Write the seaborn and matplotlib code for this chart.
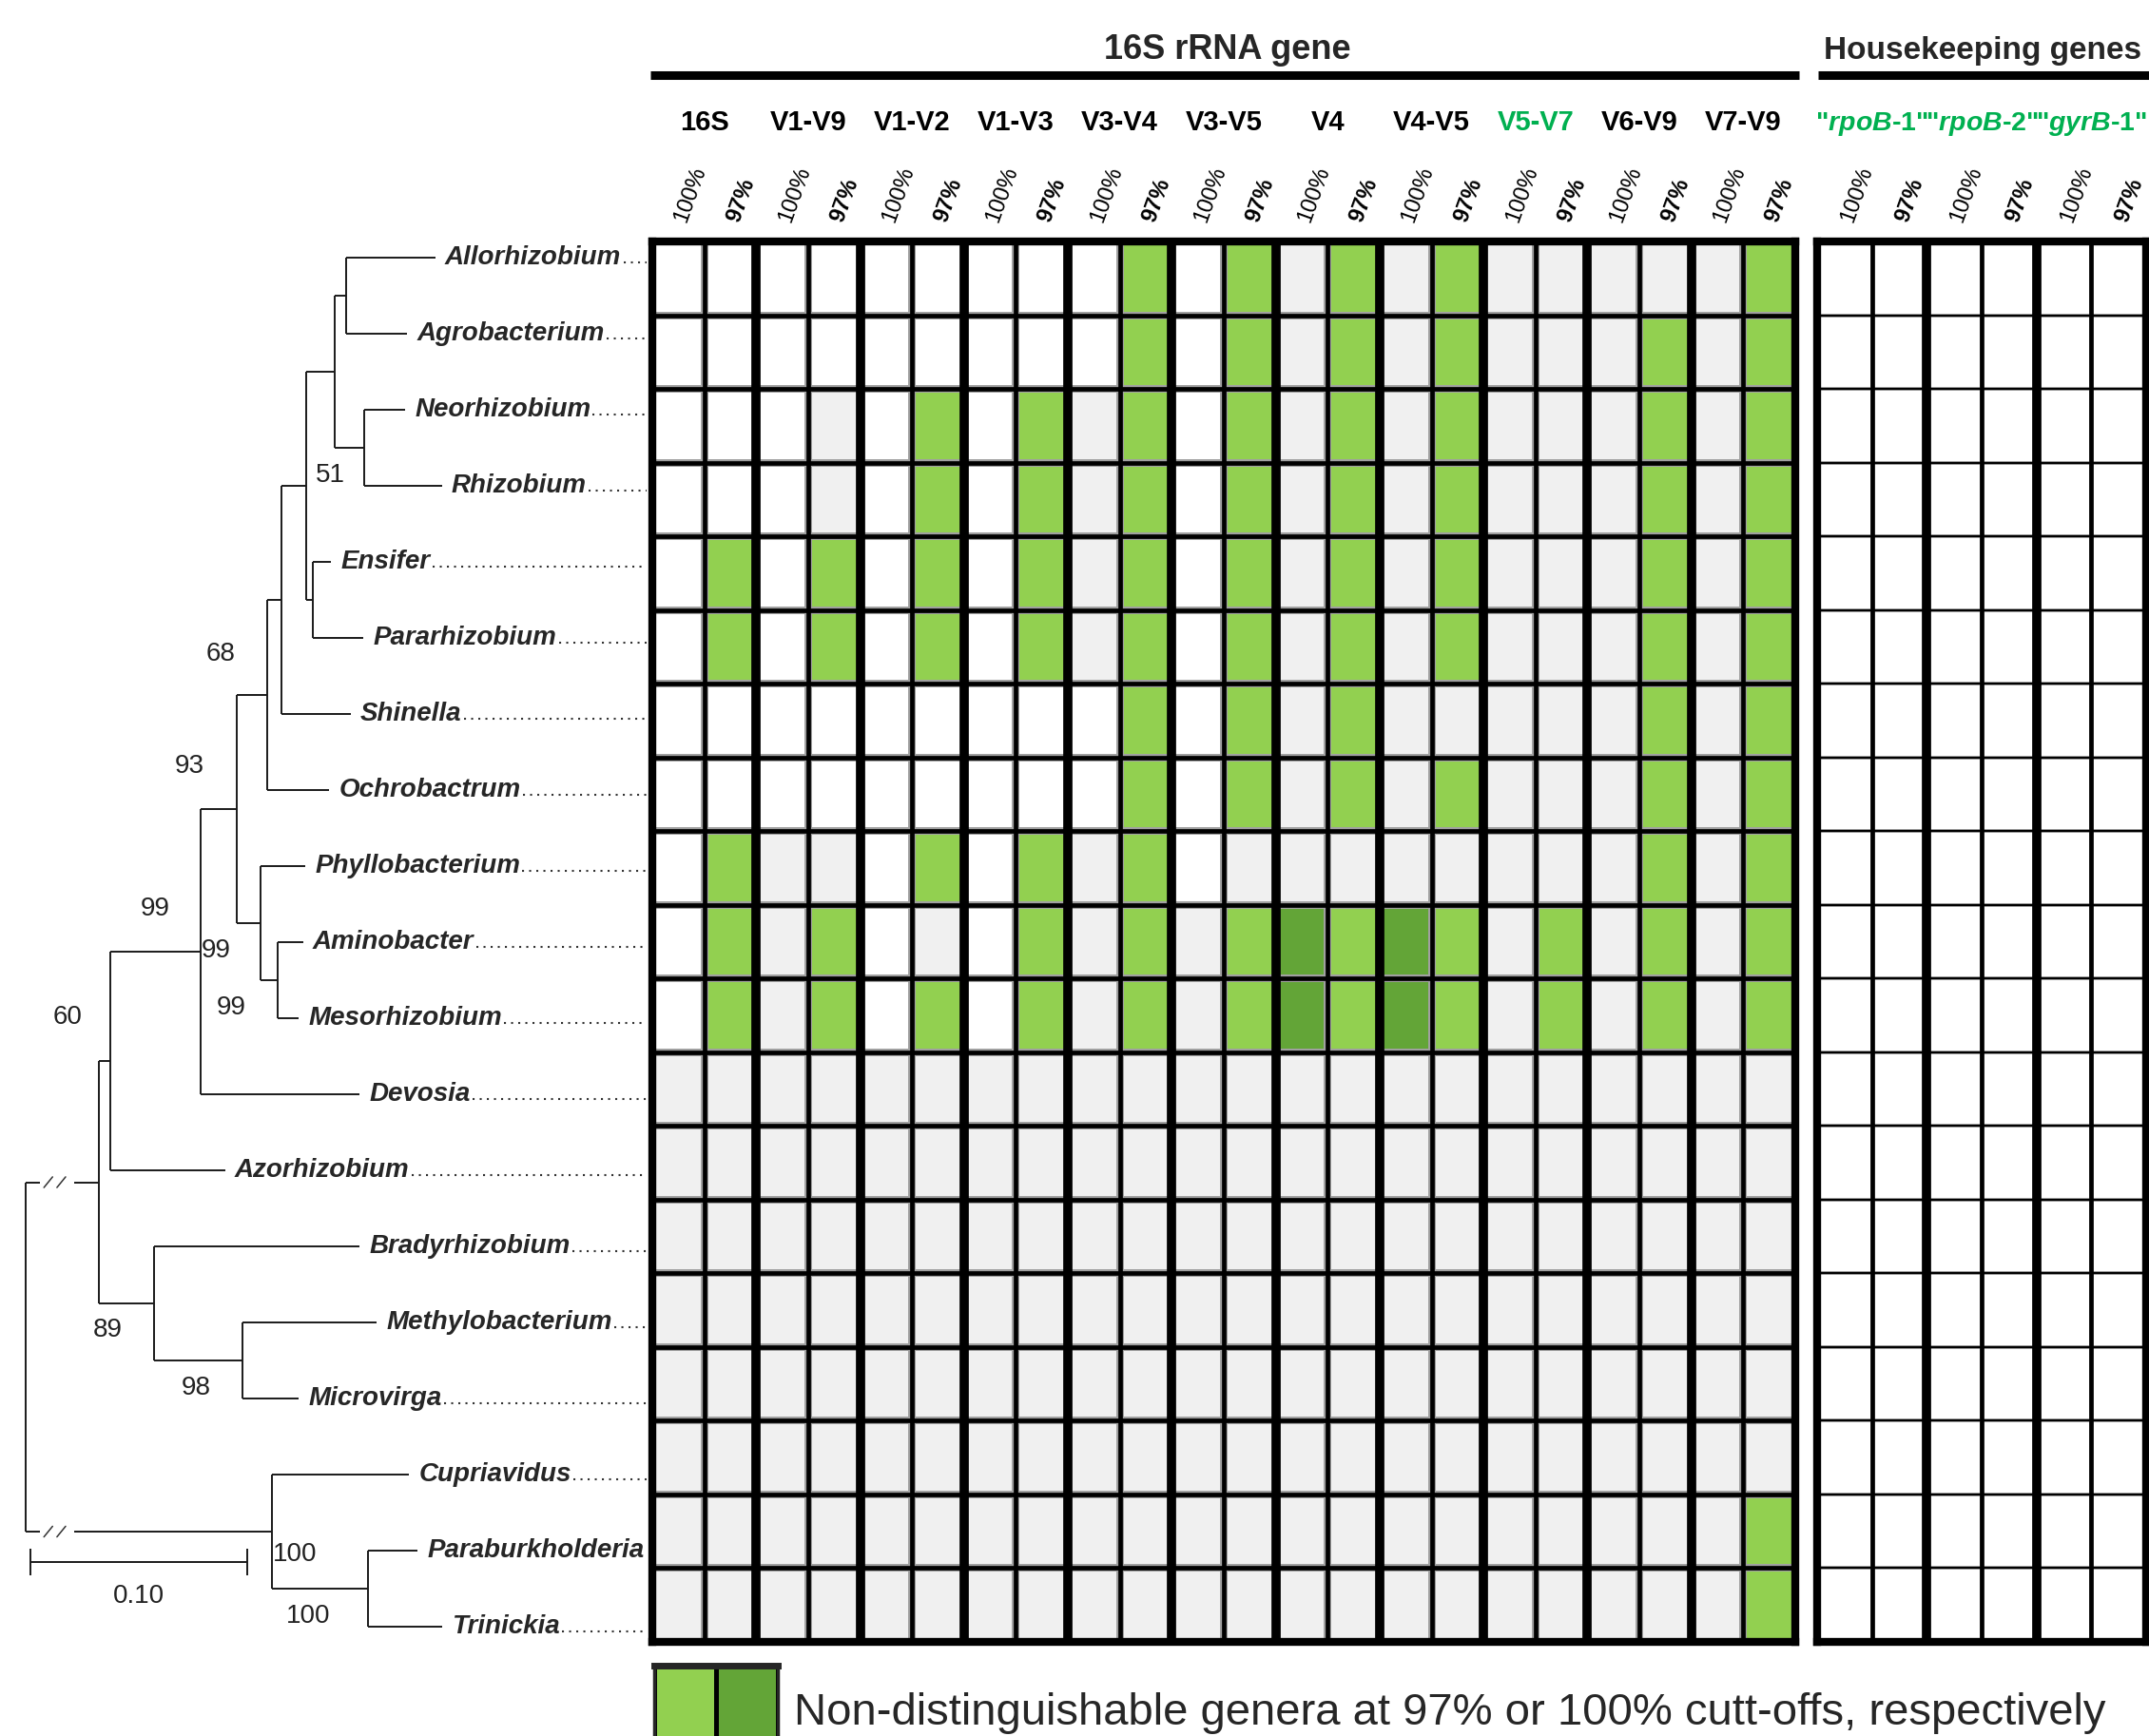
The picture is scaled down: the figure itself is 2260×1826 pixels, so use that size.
import matplotlib
matplotlib.use("Agg")
import matplotlib.pyplot as plt
import numpy as np
import seaborn as sns
from matplotlib.colors import ListedColormap

# ---------------- data ----------------
genera = ['Allorhizobium', 'Agrobacterium', 'Neorhizobium', 'Rhizobium', 'Ensifer',
          'Pararhizobium', 'Shinella', 'Ochrobactrum', 'Phyllobacterium', 'Aminobacter',
          'Mesorhizobium', 'Devosia', 'Azorhizobium', 'Bradyrhizobium', 'Methylobacterium',
          'Microvirga', 'Cupriavidus', 'Paraburkholderia', 'Trinickia']

# distance root -> tip (root branches are shortened, marked with //)
tip_depth = [0.189, 0.176, 0.175, 0.192, 0.141, 0.156, 0.150, 0.140, 0.129, 0.128,
             0.126, 0.154, 0.092, 0.154, 0.162, 0.126, 0.177, 0.181, 0.192]

# internal node = [depth, child, child]
tree = [0.0,
        [0.0339,
         [0.0392,
          [0.0808,
           [0.0975,
            [0.1115,
             [0.1182,
              [0.1295,
               [0.1427,
                [0.148, 'Allorhizobium', 'Agrobacterium'],
                [0.1562, 'Neorhizobium', 'Rhizobium']],
               [0.1326, 'Ensifer', 'Pararhizobium']],
              'Shinella'],
             'Ochrobactrum'],
            [0.1086, 'Phyllobacterium', [0.1163, 'Aminobacter', 'Mesorhizobium']]],
           'Devosia'],
          'Azorhizobium'],
         [0.0591, 'Bradyrhizobium', [0.0999, 'Methylobacterium', 'Microvirga']]],
        [0.1136, 'Cupriavidus', [0.158, 'Paraburkholderia', 'Trinickia']]]

# bootstrap values (label, x in distance units, y in tip rows)
support = [('51', 0.1404, 2.86), ('68', 0.0900, 5.21), ('93', 0.0755, 6.69),
           ('99', 0.0597, 8.56), ('99', 0.0878, 9.11), ('99', 0.0948, 9.86),
           ('60', 0.0194, 9.99), ('89', 0.0378, 14.10), ('98', 0.0786, 14.86),
           ('100', 0.1242, 17.05), ('100', 0.1303, 17.86)]
scale_len = 0.10

regions = ['16S', 'V1-V9', 'V1-V2', 'V1-V3', 'V3-V4', 'V3-V5', 'V4', 'V4-V5',
           'V5-V7', 'V6-V9', 'V7-V9']
hk_genes = ['rpoB', 'rpoB', 'gyrB']
hk_suffix = ['-1', '-2', '-1']
cutoffs = ['100%', '97%']

# 0 = white, 1 = distinguishable (grey),
# 2 = not distinguishable at 97%, 3 = not distinguishable at 100%
cells_16s = [
    [0, 0, 0, 0, 0, 0, 0, 0, 0, 2, 0, 2, 1, 2, 1, 2, 1, 1, 1, 1, 1, 2],
    [0, 0, 0, 0, 0, 0, 0, 0, 0, 2, 0, 2, 1, 2, 1, 2, 1, 1, 1, 2, 1, 2],
    [0, 0, 0, 1, 0, 2, 0, 2, 1, 2, 0, 2, 1, 2, 1, 2, 1, 1, 1, 2, 1, 2],
    [0, 0, 0, 1, 0, 2, 0, 2, 1, 2, 0, 2, 1, 2, 1, 2, 1, 1, 1, 2, 1, 2],
    [0, 2, 0, 2, 0, 2, 0, 2, 1, 2, 0, 2, 1, 2, 1, 2, 1, 1, 1, 2, 1, 2],
    [0, 2, 0, 2, 0, 2, 0, 2, 1, 2, 0, 2, 1, 2, 1, 2, 1, 1, 1, 2, 1, 2],
    [0, 0, 0, 0, 0, 0, 0, 0, 0, 2, 0, 2, 1, 2, 1, 1, 1, 1, 1, 2, 1, 2],
    [0, 0, 0, 0, 0, 0, 0, 0, 0, 2, 0, 2, 1, 2, 1, 2, 1, 1, 1, 2, 1, 2],
    [0, 2, 1, 1, 0, 2, 0, 2, 1, 2, 0, 1, 1, 1, 1, 1, 1, 1, 1, 2, 1, 2],
    [0, 2, 1, 2, 0, 1, 0, 2, 1, 2, 1, 2, 3, 2, 3, 2, 1, 2, 1, 2, 1, 2],
    [0, 2, 1, 2, 0, 2, 0, 2, 1, 2, 1, 2, 3, 2, 3, 2, 1, 2, 1, 2, 1, 2],
    [1] * 22,
    [1] * 22,
    [1] * 22,
    [1] * 22,
    [1] * 22,
    [1] * 22,
    [1] * 21 + [2],
    [1] * 21 + [2],
]
cells_hk = [[0] * 6 for _ in genera]
legend_cells = [[2, 3]]
legend_text = 'Non-distinguishable genera at 97% or 100% cutt-offs, respectively'

# ---------------- style ----------------
sns.set_theme(style="white")
plt.rcParams["font.family"] = ["Liberation Sans", "DejaVu Sans"]
plt.rcParams["mathtext.fontset"] = "custom"
plt.rcParams["mathtext.it"] = "Liberation Sans:italic:bold"
plt.rcParams["mathtext.rm"] = "Liberation Sans:bold"

W, H = 2260, 1826
fig = plt.figure(figsize=(W / 100, H / 100), dpi=100)
fig.patch.set_facecolor("white")


def add_axes_px(x0, y0, x1, y1):
    return fig.add_axes([x0 / W, 1 - y1 / H, (x1 - x0) / W, (y1 - y0) / H])


cmap = ListedColormap(["#ffffff", "#f0f0f0", "#92d050", "#63a537"])
green_txt = "#00b050"
GRID_TOP, GRID_BOT = 254, 1727
frac = lambda ypx: (GRID_BOT - ypx) / (GRID_BOT - GRID_TOP)


def grid_block(ax, data, row_lw, thin_lw, thick_lw):
    data = np.array(data)
    sns.heatmap(data, ax=ax, cmap=cmap, vmin=-0.5, vmax=3.5, cbar=False,
                linewidths=row_lw + 1.2, linecolor="#a0a0a0",
                xticklabels=False, yticklabels=False)
    nr, nc = data.shape
    ax.hlines(np.arange(1, nr), 0, nc, color="black", lw=row_lw)
    ax.vlines(np.arange(1, nc, 2), 0, nr, color="black", lw=thin_lw)
    ax.vlines(np.arange(2, nc, 2), 0, nr, color="black", lw=thick_lw)
    for s in ax.spines.values():
        s.set_visible(True)
        s.set_linewidth(6)
        s.set_color("black")
    tr = ax.get_xaxis_transform()
    for j in range(nc):
        lab = cutoffs[j % 2]
        ax.text(j + 0.55, frac(233), lab, transform=tr, rotation=70,
                rotation_mode="anchor", ha="left", va="center", fontsize=17,
                fontweight="normal" if lab == "100%" else "bold", color="black")


# 16S block
ax_16 = add_axes_px(686, GRID_TOP, 1888, GRID_BOT)
grid_block(ax_16, cells_16s, 3.4, 3.4, 7)
tr = ax_16.get_xaxis_transform()
for k, reg in enumerate(regions):
    ax_16.text(2 * k + 1, frac(137), reg, transform=tr, ha="center", va="baseline",
               fontsize=21, fontweight="bold",
               color=green_txt if reg == "V5-V7" else "black")
ax_16.plot([-0.002, 1.003], [frac(79.5)] * 2, transform=ax_16.transAxes, clip_on=False,
           color="black", lw=6.5, solid_capstyle="butt")
ax_16.text(0.503, frac(62), "16S rRNA gene", transform=ax_16.transAxes, ha="center",
           va="baseline", fontsize=26, fontweight="bold")

# housekeeping block (runs to the right edge)
ax_hk = add_axes_px(1911, GRID_TOP, 2257, GRID_BOT)
grid_block(ax_hk, cells_hk, 1.5, 3.4, 7)
tr = ax_hk.get_xaxis_transform()
for k, (g, suf) in enumerate(zip(hk_genes, hk_suffix)):
    ax_hk.text(2 * k + 1, frac(137), '"$\\mathit{%s}$%s"' % (g, suf), transform=tr,
               ha="center", va="baseline", fontsize=20.5, fontweight="bold", color=green_txt)
ax_hk.plot([0.002, 1.2], [frac(79.5)] * 2, transform=ax_hk.transAxes, clip_on=False,
           color="black", lw=6.5, solid_capstyle="butt")
ax_hk.text(0.02, frac(62), "Housekeeping genes", transform=ax_hk.transAxes, ha="left",
           va="baseline", fontsize=24, fontweight="bold")

# legend swatches
ax_lg = add_axes_px(688, 1752, 818, 1850)
sns.heatmap(np.array(legend_cells), ax=ax_lg, cmap=cmap, vmin=-0.5, vmax=3.5, cbar=False,
            linewidths=2.5, linecolor="black", xticklabels=False, yticklabels=False)
for s in ax_lg.spines.values():
    s.set_visible(True)
    s.set_linewidth(2.5)
ax_lg.spines["top"].set_linewidth(5)
ax_lg.text(1.13, 0.49, legend_text, transform=ax_lg.transAxes, ha="left", va="center",
           fontsize=34)

# ---------------- tree ----------------
PX_PER_UNIT, ROOT_PX, TIP0_PX, ROW_PX = 2280, 26.8, 271, 80
ax_t = add_axes_px(0, 0, 680, H)
ax_t.set_xlim(-ROOT_PX / PX_PER_UNIT, (680 - ROOT_PX) / PX_PER_UNIT)
ax_t.set_ylim((H - TIP0_PX) / ROW_PX, -TIP0_PX / ROW_PX)
ax_t.axis("off")
line_kw = dict(color="#1a1a1a", lw=1.4, solid_capstyle="butt")


def draw(node, broken=False):
    if isinstance(node, str):
        i = genera.index(node)
        return float(i), tip_depth[i]
    depth = node[0]
    ys = []
    for child in node[1:]:
        cy, cx = draw(child)
        if broken:
            ax_t.plot([depth, depth + 0.0065], [cy, cy], **line_kw)
            ax_t.plot([depth + 0.0225, cx], [cy, cy], **line_kw)
            for sx in (0.0105, 0.0165):
                ax_t.plot([depth + sx - 0.002, depth + sx + 0.002], [cy + 0.07, cy - 0.07],
                          color="#333333", lw=1.1)
        else:
            ax_t.plot([depth, cx], [cy, cy], **line_kw)
        ys.append(cy)
    ax_t.plot([depth, depth], [min(ys), max(ys)], **line_kw)
    return (min(ys) + max(ys)) / 2, depth


draw(tree, broken=True)

labels = []
for i, g in enumerate(genera):
    labels.append(ax_t.text(tip_depth[i] + 0.0045, i, g, ha="left", va="center",
                            fontsize=20, fontweight="bold", fontstyle="italic"))

for txt, x, y in support:
    ax_t.text(x, y, txt, ha="center", va="center", fontsize=20, color="#222222")

sb_x, sb_y = 0.0023, 17.15
ax_t.plot([sb_x, sb_x + scale_len], [sb_y, sb_y], **line_kw)
for xe in (sb_x, sb_x + scale_len):
    ax_t.plot([xe, xe], [sb_y - 0.17, sb_y + 0.17], **line_kw)
ax_t.text(sb_x + scale_len / 2, sb_y + 0.45, "%.2f" % scale_len, ha="center", va="center",
          fontsize=20, color="#222222")

# dotted leaders from each name to the grid
fig.canvas.draw()
inv = ax_t.transData.inverted()
x_end = ax_t.get_xlim()[1]
for i, t in enumerate(labels):
    bb = t.get_window_extent()
    x0 = inv.transform((bb.x1, 0))[0] + 0.001
    ax_t.plot([x0, x_end], [i + 0.06, i + 0.06], color="#333333", lw=1.5,
              linestyle=(0, (1, 2.6)))

fig.savefig("out.png", dpi=100)
